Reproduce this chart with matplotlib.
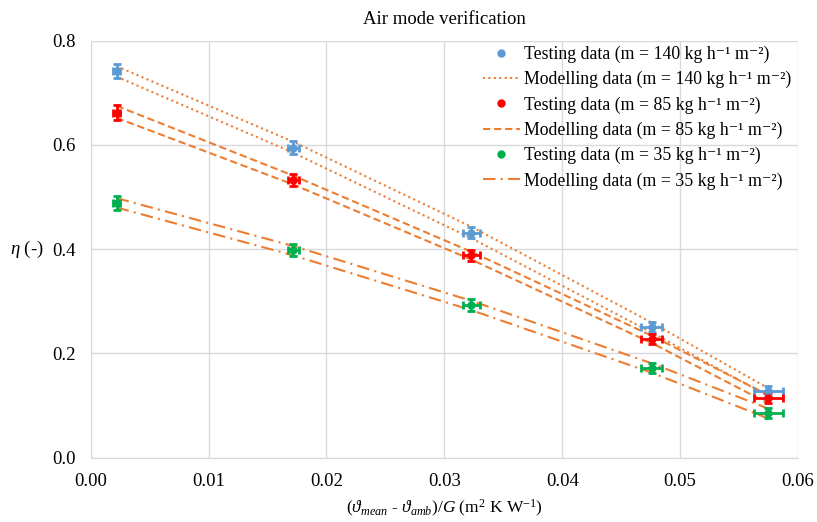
import matplotlib
matplotlib.use('Agg')
import matplotlib.pyplot as plt
from matplotlib.lines import Line2D

plt.rcParams['font.family'] = ['Liberation Serif', 'DejaVu Serif']
plt.rcParams['mathtext.fontset'] = 'custom'
plt.rcParams['mathtext.rm'] = 'Liberation Serif'
plt.rcParams['mathtext.it'] = 'Liberation Serif:italic'

# data
x = [0.0022, 0.0172, 0.0323, 0.0476, 0.0575]
x_err = [0.0003, 0.0005, 0.0007, 0.0009, 0.0012]

test_140 = [0.742, 0.595, 0.432, 0.251, 0.128]
test_85 = [0.662, 0.533, 0.388, 0.228, 0.115]
test_35 = [0.489, 0.398, 0.293, 0.172, 0.086]
y_err_140 = [0.014, 0.012, 0.011, 0.010, 0.010]
y_err_85 = [0.014, 0.012, 0.011, 0.010, 0.010]
y_err_35 = [0.013, 0.012, 0.011, 0.010, 0.010]

model_140_hi = [0.751, 0.606, 0.443, 0.259, 0.133]
model_140_lo = [0.731, 0.585, 0.421, 0.240, 0.118]
model_85_hi = [0.675, 0.541, 0.395, 0.234, 0.120]
model_85_lo = [0.652, 0.524, 0.380, 0.220, 0.104]
model_35_hi = [0.498, 0.406, 0.301, 0.181, 0.094]
model_35_lo = [0.480, 0.388, 0.283, 0.163, 0.075]

labels_test = ['Testing data (m = 140 kg h\u207b\u00b9 m\u207b\u00b2)',
               'Testing data (m = 85 kg h\u207b\u00b9 m\u207b\u00b2)',
               'Testing data (m = 35 kg h\u207b\u00b9 m\u207b\u00b2)']
labels_model = ['Modelling data (m = 140 kg h\u207b\u00b9 m\u207b\u00b2)',
                'Modelling data (m = 85 kg h\u207b\u00b9 m\u207b\u00b2)',
                'Modelling data (m = 35 kg h\u207b\u00b9 m\u207b\u00b2)']

blue = '#5b9bd5'
red = '#ff0000'
green = '#00b050'
orange = '#ed7d31'

fig = plt.figure(figsize=(8.17, 5.22), dpi=100)
ax = fig.add_axes([0.111, 0.1232, 0.8657, 0.7988])

styles = [(0, (1, 1.6)), (0, (3.5, 1.8)), (0, (6, 2.5, 1, 2.5))]
models = [(model_140_hi, model_140_lo), (model_85_hi, model_85_lo), (model_35_hi, model_35_lo)]
for (hi, lo), ls in zip(models, styles):
    ax.plot(x, hi, color=orange, lw=1.5, linestyle=ls)
    ax.plot(x, lo, color=orange, lw=1.5, linestyle=ls)

tests = [(test_140, y_err_140, blue), (test_85, y_err_85, red), (test_35, y_err_35, green)]
for ys, ye, c in tests:
    ax.errorbar(x, ys, yerr=ye, xerr=x_err, fmt='o', color=c, ms=5,
                elinewidth=2, capsize=3, capthick=2, zorder=3)

handles = []
labels = []
for (ys, ye, c), ls, lt, lm in zip(tests, styles, labels_test, labels_model):
    handles.append(Line2D([], [], marker='o', ms=5, color=c, linestyle='none'))
    labels.append(lt)
    handles.append(Line2D([], [], color=orange, lw=1.5, linestyle=ls))
    labels.append(lm)

ax.legend(handles, labels, loc='upper right', bbox_to_anchor=(1.0, 1.005),
          frameon=False, fontsize=12.8, handlelength=2.1, handletextpad=0.2,
          labelspacing=0.45, borderaxespad=0.0)

ax.set_xlim(0, 0.06)
ax.set_ylim(0, 0.8)
ax.set_xticks([0.00, 0.01, 0.02, 0.03, 0.04, 0.05, 0.06])
ax.set_xticklabels(['0.00', '0.01', '0.02', '0.03', '0.04', '0.05', '0.06'])
ax.set_yticks([0.0, 0.2, 0.4, 0.6, 0.8])
ax.set_yticklabels(['0.0', '0.2', '0.4', '0.6', '0.8'])
ax.tick_params(length=0, labelsize=13.5, pad=11)
ax.grid(True, color='#d9d9d9', lw=1)
ax.set_axisbelow(True)
for s in ['top', 'right']:
    ax.spines[s].set_visible(False)
for s in ['left', 'bottom']:
    ax.spines[s].set_color('#d9d9d9')

ax.set_title('Air mode verification', fontsize=13.5, pad=12)
ax.set_xlabel(r'($\mathit{\vartheta}_{mean}$ - $\mathit{\vartheta}_{amb}$)/$\mathit{G}$ (m$^2$ K W$^{\mathregular{-1}}$)',
              fontsize=12.5, labelpad=6)
ax.set_ylabel(r'$\mathit{\eta}$ (-)', fontsize=13.5, rotation=0, labelpad=18, va='center')

fig.savefig('out.png', dpi=100)
